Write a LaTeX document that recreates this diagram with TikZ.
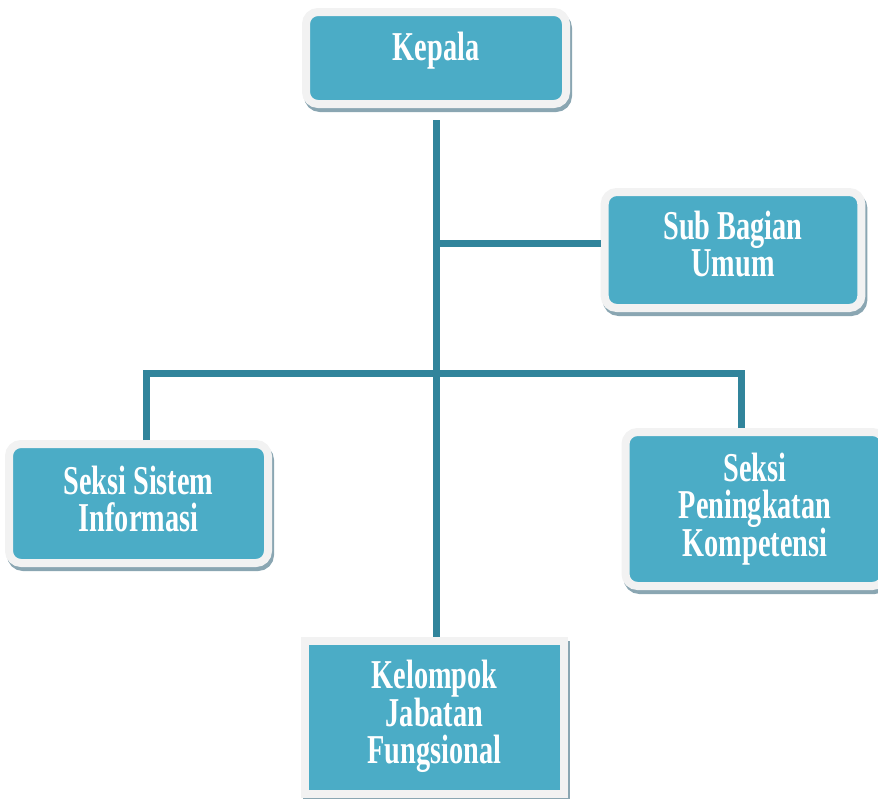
\documentclass[tikz,border=0pt]{standalone}
\usepackage{fontspec}
\setmainfont{Liberation Serif}[FakeStretch=0.69]
\usetikzlibrary{shadows}
\definecolor{aqua}{RGB}{75,172,198}
\definecolor{aquadark}{RGB}{49,132,155}
\definecolor{rim}{RGB}{242,242,242}
\definecolor{shade}{RGB}{138,166,178}
\def\boxfont{\bfseries\fontsize{41}{37}\selectfont}
\def\lift#1#2{\raisebox{#1}[0pt][0pt]{\parbox{250pt}{\centering #2}}}
\tikzstyle{unit} = [rectangle, rounded corners=12pt, draw=rim, line width=8pt, fill=aqua, text=white, align=center, font=\boxfont,
                    drop shadow={shadow xshift=2pt, shadow yshift=-4pt, fill=shade, draw=shade, line width=8pt, opacity=1}]
\tikzstyle{flat} = [unit, rounded corners=0pt]
\tikzstyle{link} = [draw=aquadark, line width=7pt]
\begin{document}
\begin{tikzpicture}[x=1pt, y=-1pt]
  \useasboundingbox (0,0) rectangle (878,798);

  \node[unit, minimum width=260pt, minimum height=92pt] (kepala) at (436,58) {\raisebox{-2pt}[0pt][0pt]{Kepala}};
  \node[unit, minimum width=256pt, minimum height=116pt] (umum) at (733,250) {\lift{0pt}{Sub Bagian\\Umum}};
  \node[unit, minimum width=259pt, minimum height=119pt] (sisinfo) at (138.5,503.5) {\lift{-2pt}{Seksi Sistem\\Informasi}};
  \node[unit, minimum width=259pt, minimum height=154pt] (kompetensi) at (755,509) {Seksi\\Peningkatan\\Kompetensi};
  \node[flat, minimum width=259pt, minimum height=153pt] (fungsional) at (434.5,717.5) {\lift{-5pt}{Kelompok\\Jabatan\\Fungsional}};

  \coordinate (j1) at (436,243);
  \coordinate (j2) at (436,373);

  \draw[link] ([yshift=-12pt]kepala.south) -- (kepala.south |- fungsional.north);
  \draw[link] (j1) -- (j1 -| umum.west);
  \draw[link] ([xshift=7.5pt]sisinfo.north) |- (j2) -| ([xshift=-14pt]kompetensi.north);

\end{tikzpicture}
\end{document}
